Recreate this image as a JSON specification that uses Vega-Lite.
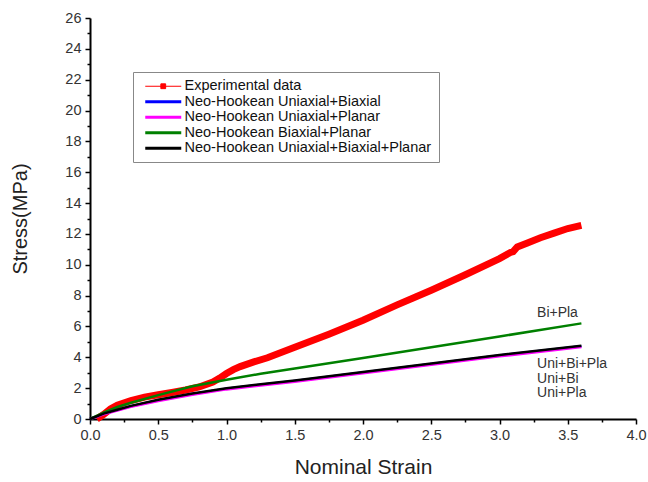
{
  "$schema": "https://vega.github.io/schema/vega-lite/v6.json",
  "width": 546,
  "height": 401,
  "autosize": {"type": "none"},
  "padding": {"left": 90, "top": 18, "right": 12, "bottom": 63},
  "background": "white",
  "config": {
    "view": {"stroke": null},
    "font": "Liberation Sans",
    "axis": {
      "domainColor": "black",
      "domainWidth": 2,
      "tickColor": "black",
      "tickWidth": 1.5,
      "tickSize": 5,
      "labelFontSize": 14.5,
      "labelColor": "#333",
      "labelFont": "Liberation Sans",
      "titleFont": "Liberation Sans",
      "titleFontSize": 20,
      "titleFontWeight": "normal",
      "titleColor": "#222",
      "grid": false
    }
  },
  "datasets": {
    "exp": [
      {"series": "Experimental data", "strain": 0.05, "stress": 0.0},
      {"series": "Experimental data", "strain": 0.1, "stress": 0.3},
      {"series": "Experimental data", "strain": 0.15, "stress": 0.65},
      {"series": "Experimental data", "strain": 0.2, "stress": 0.9},
      {"series": "Experimental data", "strain": 0.3, "stress": 1.2},
      {"series": "Experimental data", "strain": 0.4, "stress": 1.42},
      {"series": "Experimental data", "strain": 0.5, "stress": 1.57},
      {"series": "Experimental data", "strain": 0.6, "stress": 1.72},
      {"series": "Experimental data", "strain": 0.7, "stress": 1.88},
      {"series": "Experimental data", "strain": 0.8, "stress": 2.08},
      {"series": "Experimental data", "strain": 0.9, "stress": 2.4},
      {"series": "Experimental data", "strain": 0.95, "stress": 2.65},
      {"series": "Experimental data", "strain": 1.0, "stress": 2.95},
      {"series": "Experimental data", "strain": 1.05, "stress": 3.2},
      {"series": "Experimental data", "strain": 1.1, "stress": 3.4},
      {"series": "Experimental data", "strain": 1.2, "stress": 3.7},
      {"series": "Experimental data", "strain": 1.3, "stress": 3.97},
      {"series": "Experimental data", "strain": 1.5, "stress": 4.65},
      {"series": "Experimental data", "strain": 1.75, "stress": 5.5},
      {"series": "Experimental data", "strain": 2.0, "stress": 6.4},
      {"series": "Experimental data", "strain": 2.25, "stress": 7.4},
      {"series": "Experimental data", "strain": 2.5, "stress": 8.35},
      {"series": "Experimental data", "strain": 2.75, "stress": 9.35},
      {"series": "Experimental data", "strain": 3.0, "stress": 10.4},
      {"series": "Experimental data", "strain": 3.08, "stress": 10.8},
      {"series": "Experimental data", "strain": 3.1, "stress": 10.85},
      {"series": "Experimental data", "strain": 3.13, "stress": 11.15},
      {"series": "Experimental data", "strain": 3.2, "stress": 11.4},
      {"series": "Experimental data", "strain": 3.3, "stress": 11.75},
      {"series": "Experimental data", "strain": 3.4, "stress": 12.05},
      {"series": "Experimental data", "strain": 3.5, "stress": 12.35},
      {"series": "Experimental data", "strain": 3.6, "stress": 12.55}
    ],
    "models": [
      {"series": "Neo-Hookean Uniaxial+Biaxial", "strain": 0.0, "stress": 0.0},
      {"series": "Neo-Hookean Uniaxial+Biaxial", "strain": 0.1, "stress": 0.33},
      {"series": "Neo-Hookean Uniaxial+Biaxial", "strain": 0.2, "stress": 0.58},
      {"series": "Neo-Hookean Uniaxial+Biaxial", "strain": 0.3, "stress": 0.83},
      {"series": "Neo-Hookean Uniaxial+Biaxial", "strain": 0.5, "stress": 1.22},
      {"series": "Neo-Hookean Uniaxial+Biaxial", "strain": 0.75, "stress": 1.62},
      {"series": "Neo-Hookean Uniaxial+Biaxial", "strain": 1.0, "stress": 1.97},
      {"series": "Neo-Hookean Uniaxial+Biaxial", "strain": 1.25, "stress": 2.22},
      {"series": "Neo-Hookean Uniaxial+Biaxial", "strain": 1.5, "stress": 2.47},
      {"series": "Neo-Hookean Uniaxial+Biaxial", "strain": 2.0, "stress": 3.02},
      {"series": "Neo-Hookean Uniaxial+Biaxial", "strain": 2.5, "stress": 3.57},
      {"series": "Neo-Hookean Uniaxial+Biaxial", "strain": 3.0, "stress": 4.12},
      {"series": "Neo-Hookean Uniaxial+Biaxial", "strain": 3.6, "stress": 4.72},
      {"series": "Neo-Hookean Uniaxial+Planar", "strain": 0.0, "stress": 0.0},
      {"series": "Neo-Hookean Uniaxial+Planar", "strain": 0.1, "stress": 0.3},
      {"series": "Neo-Hookean Uniaxial+Planar", "strain": 0.2, "stress": 0.55},
      {"series": "Neo-Hookean Uniaxial+Planar", "strain": 0.3, "stress": 0.79},
      {"series": "Neo-Hookean Uniaxial+Planar", "strain": 0.5, "stress": 1.17},
      {"series": "Neo-Hookean Uniaxial+Planar", "strain": 0.75, "stress": 1.57},
      {"series": "Neo-Hookean Uniaxial+Planar", "strain": 1.0, "stress": 1.92},
      {"series": "Neo-Hookean Uniaxial+Planar", "strain": 1.25, "stress": 2.17},
      {"series": "Neo-Hookean Uniaxial+Planar", "strain": 1.5, "stress": 2.42},
      {"series": "Neo-Hookean Uniaxial+Planar", "strain": 2.0, "stress": 2.96},
      {"series": "Neo-Hookean Uniaxial+Planar", "strain": 2.5, "stress": 3.51},
      {"series": "Neo-Hookean Uniaxial+Planar", "strain": 3.0, "stress": 4.06},
      {"series": "Neo-Hookean Uniaxial+Planar", "strain": 3.6, "stress": 4.66},
      {"series": "Neo-Hookean Biaxial+Planar", "strain": 0.0, "stress": 0.0},
      {"series": "Neo-Hookean Biaxial+Planar", "strain": 0.1, "stress": 0.42},
      {"series": "Neo-Hookean Biaxial+Planar", "strain": 0.2, "stress": 0.78},
      {"series": "Neo-Hookean Biaxial+Planar", "strain": 0.3, "stress": 1.05},
      {"series": "Neo-Hookean Biaxial+Planar", "strain": 0.5, "stress": 1.55},
      {"series": "Neo-Hookean Biaxial+Planar", "strain": 0.75, "stress": 2.12},
      {"series": "Neo-Hookean Biaxial+Planar", "strain": 1.0, "stress": 2.55},
      {"series": "Neo-Hookean Biaxial+Planar", "strain": 1.25, "stress": 2.93},
      {"series": "Neo-Hookean Biaxial+Planar", "strain": 1.5, "stress": 3.28},
      {"series": "Neo-Hookean Biaxial+Planar", "strain": 2.0, "stress": 3.95},
      {"series": "Neo-Hookean Biaxial+Planar", "strain": 2.5, "stress": 4.65},
      {"series": "Neo-Hookean Biaxial+Planar", "strain": 3.0, "stress": 5.35},
      {"series": "Neo-Hookean Biaxial+Planar", "strain": 3.6, "stress": 6.2},
      {"series": "Neo-Hookean Uniaxial+Biaxial+Planar", "strain": 0.0, "stress": 0.0},
      {"series": "Neo-Hookean Uniaxial+Biaxial+Planar", "strain": 0.1, "stress": 0.35},
      {"series": "Neo-Hookean Uniaxial+Biaxial+Planar", "strain": 0.2, "stress": 0.6},
      {"series": "Neo-Hookean Uniaxial+Biaxial+Planar", "strain": 0.3, "stress": 0.85},
      {"series": "Neo-Hookean Uniaxial+Biaxial+Planar", "strain": 0.5, "stress": 1.25},
      {"series": "Neo-Hookean Uniaxial+Biaxial+Planar", "strain": 0.75, "stress": 1.65},
      {"series": "Neo-Hookean Uniaxial+Biaxial+Planar", "strain": 1.0, "stress": 2.0},
      {"series": "Neo-Hookean Uniaxial+Biaxial+Planar", "strain": 1.25, "stress": 2.25},
      {"series": "Neo-Hookean Uniaxial+Biaxial+Planar", "strain": 1.5, "stress": 2.5},
      {"series": "Neo-Hookean Uniaxial+Biaxial+Planar", "strain": 2.0, "stress": 3.05},
      {"series": "Neo-Hookean Uniaxial+Biaxial+Planar", "strain": 2.5, "stress": 3.6},
      {"series": "Neo-Hookean Uniaxial+Biaxial+Planar", "strain": 3.0, "stress": 4.15},
      {"series": "Neo-Hookean Uniaxial+Biaxial+Planar", "strain": 3.6, "stress": 4.75}
    ],
    "labels": [
      {"label": "Bi+Pla", "strain": 3.275, "stress": 6.87},
      {"label": "Uni+Bi+Pla", "strain": 3.275, "stress": 3.57},
      {"label": "Uni+Bi", "strain": 3.275, "stress": 2.62},
      {"label": "Uni+Pla", "strain": 3.275, "stress": 1.67}
    ]
  },
  "resolve": {"axis": {"x": "independent", "y": "independent"}},
  "layer": [
    {
      "data": {"name": "exp"},
      "mark": {"type": "line", "strokeWidth": 7, "clip": false},
      "encoding": {
        "x": {
          "field": "strain", "type": "quantitative",
          "scale": {"domain": [0, 4], "nice": false, "zero": false},
          "axis": {
            "orient": "bottom",
            "title": "Nominal Strain",
            "titleFontSize": 21,
            "values": [0, 0.5, 1, 1.5, 2, 2.5, 3, 3.5, 4],
            "format": ".1f",
            "labelFlush": false,
            "labelPadding": 4,
            "titlePadding": 15
          }
        },
        "y": {
          "field": "stress", "type": "quantitative",
          "scale": {"domain": [0, 26], "nice": false},
          "axis": {
            "orient": "left",
            "title": "Stress(MPa)",
            "values": [0, 2, 4, 6, 8, 10, 12, 14, 16, 18, 20, 22, 24, 26],
            "labelFlush": false,
            "labelPadding": 4,
            "titlePadding": 34
          }
        },
        "color": {
          "field": "series", "type": "nominal",
          "scale": {
            "domain": ["Experimental data", "Neo-Hookean Uniaxial+Biaxial", "Neo-Hookean Uniaxial+Planar", "Neo-Hookean Biaxial+Planar", "Neo-Hookean Uniaxial+Biaxial+Planar"],
            "range": ["#ff0000", "#0000ff", "#ff00ff", "#008000", "#000000"]
          },
          "legend": {
            "title": null,
            "orient": "none",
            "legendX": 43,
            "legendY": 54,
            "direction": "vertical",
            "symbolSize": 144,
            "symbolOffset": 16,
            "labelOffset": 14,
            "labelFontSize": 14.5,
            "labelFont": "Liberation Sans",
            "labelColor": "#111",
            "labelLimit": 400,
            "rowPadding": 0.5,
            "padding": 7,
            "strokeColor": "#888",
            "fillColor": "white",
            "encode": {
              "symbols": {
                "update": {
                  "shape": {"signal": "datum.value === 'Experimental data' ? 'M-3,0H3M-0.4,-0.4H0.4V0.4H-0.4Z' : 'M-3,0H3'"},
                  "fill": {"signal": "datum.value === 'Experimental data' ? '#ff0000' : 'transparent'"},
                  "strokeWidth": {"signal": "datum.value === 'Experimental data' ? 1 : 3"}
                }
              }
            }
          }
        }
      }
    },
    {
      "data": {"name": "models"},
      "mark": {"type": "line", "strokeWidth": 2.5},
      "encoding": {
        "x": {
          "field": "strain", "type": "quantitative",
          "axis": {
            "orient": "bottom",
            "title": null,
            "values": [0.25, 0.75, 1.25, 1.75, 2.25, 2.75, 3.25, 3.75],
            "labels": false,
            "domain": false,
            "tickSize": 3
          }
        },
        "y": {
          "field": "stress", "type": "quantitative",
          "axis": {
            "orient": "left",
            "title": null,
            "values": [1, 3, 5, 7, 9, 11, 13, 15, 17, 19, 21, 23, 25],
            "labels": false,
            "domain": false,
            "tickSize": 3
          }
        },
        "color": {"field": "series", "type": "nominal"}
      }
    },
    {
      "data": {"name": "labels"},
      "mark": {"type": "text", "align": "left", "baseline": "middle", "fontSize": 14, "color": "#333", "font": "Liberation Sans"},
      "encoding": {
        "x": {"field": "strain", "type": "quantitative", "axis": null},
        "y": {"field": "stress", "type": "quantitative", "axis": null},
        "text": {"field": "label"}
      }
    }
  ]
}
